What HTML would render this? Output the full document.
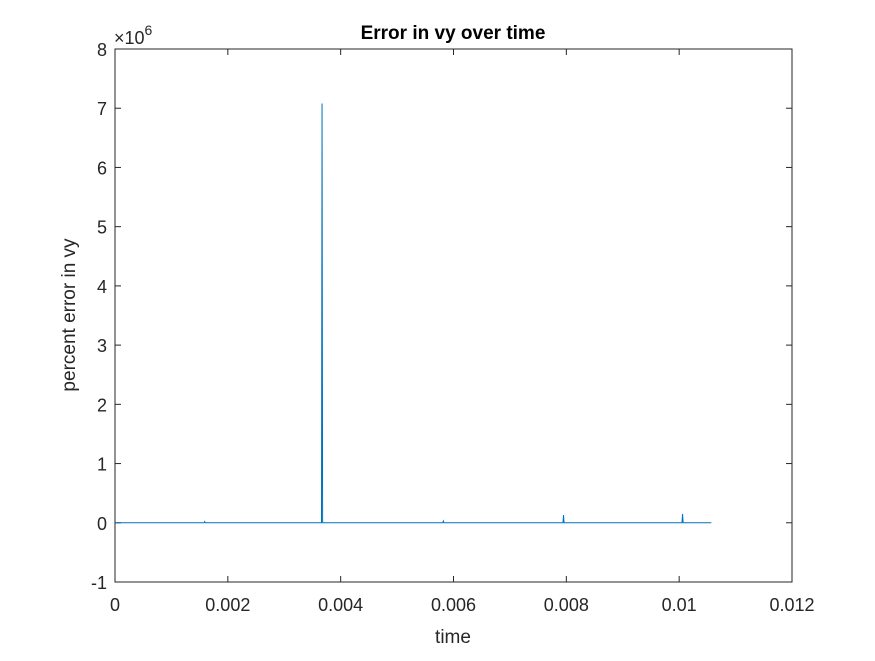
<!DOCTYPE html>
<html><head><meta charset="utf-8"><style>
body{margin:0;background:#fff;}
svg text{font-family:"Liberation Sans",Arial,sans-serif;fill:#262626;}
</style></head><body>
<svg id="chart" width="875" height="656" viewBox="0 0 875 656" xmlns="http://www.w3.org/2000/svg">
<rect width="875" height="656" fill="#fff"/>
<rect x="115" y="49" width="677" height="533" fill="#fff" stroke="#262626" stroke-width="1"/>
<g id="ticks"></g>
<path id="series" fill="none" stroke="#0072BD" stroke-width="1"/>
<text x="453" y="39" text-anchor="middle" font-size="19" font-weight="bold" style="fill:#000">Error in vy over time</text>
<text x="453" y="643" text-anchor="middle" font-size="19">time</text>
<text transform="translate(75,315) rotate(-90)" text-anchor="middle" font-size="19">percent error in vy</text>
<text x="114" y="44" font-size="18">×10<tspan dy="-9" font-size="14">6</tspan></text>
</svg>
<script>
const times=[0,0.00158,0.00159,0.0016,0.00366,0.00367,0.00368,0.00581,0.00582,0.00583,0.00794,0.00795,0.00796,0.01005,0.01006,0.01007,0.01057];
const values=[0,0,0.02,0,0,7.08,0,0,0.03,0,0,0.13,0,0,0.15,0,0];
const xTicks=[0,0.002,0.004,0.006,0.008,0.01,0.012];
const xTickLabels=["0","0.002","0.004","0.006","0.008","0.01","0.012"];
const yTicks=[-1,0,1,2,3,4,5,6,7,8];
const L=115,R=792,T=49,B=582;
const xs=v=>L+(v-0)/(0.012)*(R-L);
const ys=v=>B-(v+1)/9*(B-T);
const g=document.getElementById('ticks');
const ns='http://www.w3.org/2000/svg';
xTicks.forEach((t,i)=>{
  const x=xs(t);
  [[B,B-6],[T,T+6]].forEach(([a,b])=>{const l=document.createElementNS(ns,'line');l.setAttribute('x1',x);l.setAttribute('x2',x);l.setAttribute('y1',a);l.setAttribute('y2',b);l.setAttribute('stroke','#262626');
  
  
  g.appendChild(l);});
  const tx=document.createElementNS(ns,'text');tx.setAttribute('x',x);tx.setAttribute('y',B+29);tx.setAttribute('text-anchor','middle');tx.setAttribute('font-size','18');tx.textContent=xTickLabels[i];
  
  
  g.appendChild(tx);
});
yTicks.forEach(t=>{
  const y=ys(t);
  [[L,L+6],[R,R-6]].forEach(([a,b])=>{const l=document.createElementNS(ns,'line');l.setAttribute('y1',y);l.setAttribute('y2',y);l.setAttribute('x1',a);l.setAttribute('x2',b);l.setAttribute('stroke','#262626');
  
  
  g.appendChild(l);});
  const tx=document.createElementNS(ns,'text');tx.setAttribute('x',L-8);tx.setAttribute('y',y+7);tx.setAttribute('text-anchor','end');tx.setAttribute('font-size','18');tx.textContent=String(t);
  
  
  g.appendChild(tx);
});
document.getElementById('series').setAttribute('d',times.map((t,i)=>(i?'L':'M')+xs(t).toFixed(2)+','+ys(values[i]).toFixed(2)).join(' '));
</script>
</body></html>
